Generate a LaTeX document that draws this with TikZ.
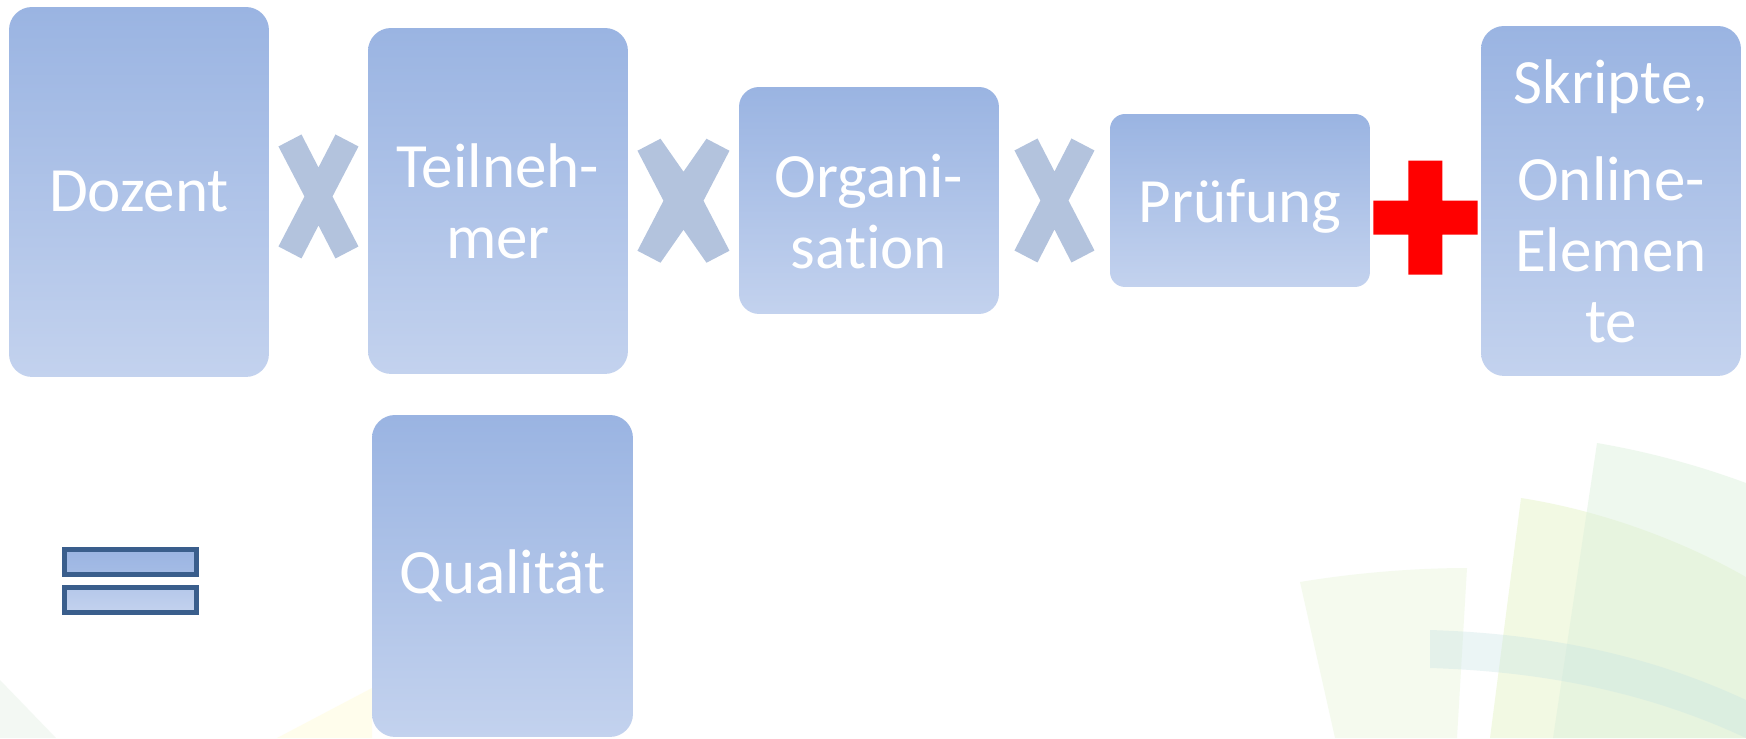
\documentclass[tikz,border=0pt]{standalone}
\usepackage{fontspec}
\setmainfont{Carlito}[Ligatures=NoCommon]
\usetikzlibrary{calc}

\begin{document}
\begin{tikzpicture}[x=0.02cm, y=-0.02cm,
	blocktext/.style={text=white, align=center, inner sep=0pt, font=\fontsize{35.9pt}{40.4pt}\selectfont},
	block/.style={blocktext, anchor=north west, outer sep=0pt, minimum width=5.2cm,
		top color=boxtop, bottom color=boxbottom},
	eqbar/.style={anchor=north west, inner sep=0pt, draw=eqframe, line width=0.1cm,
		minimum width=2.66cm, minimum height=0.5cm}]
	\definecolor{boxtop}{RGB}{154, 180, 226}
	\definecolor{boxbottom}{RGB}{195, 210, 238}
	\definecolor{timesgray}{RGB}{179, 195, 221}
	\definecolor{eqframe}{RGB}{58, 94, 140}
	\definecolor{plusred}{RGB}{255, 0, 0}

	% \drawtimes#center#halfwidth
	\def\drawtimes#1#2{
		\fill[timesgray, shift={(#1)}] (-#2, -50) -- (-#2+23, -62) -- (0, -29) -- (#2-23, -62) -- (#2, -50) -- (#2-26, 0)
			-- (#2, 50) -- (#2-23, 62) -- (0, 29) -- (-#2+23, 62) -- (-#2, 50) -- (-#2+26, 0) -- cycle;
	}

	% \drawplus#center
	\def\drawplus#1{
		\fill[plusred, shift={(#1)}] (-17, -57) -- (17, -57) -- (17, -17) -- (52, -17) -- (52, 17) -- (17, 17)
			-- (17, 57) -- (-17, 57) -- (-17, 17) -- (-52, 17) -- (-52, -17) -- (-17, -17) -- cycle;
	}

	% background
	\fill[white] (0, 0) rectangle (1746, 738);
	\useasboundingbox (0, 0) rectangle (1746, 738);
	\fill[green!30!gray!12, fill opacity=.6] (0, 680) -- (56, 738) -- (0, 738) -- cycle;
	\fill[yellow!12, fill opacity=.6] (277, 738) -- (372, 688) -- (372, 738) -- cycle;
	\fill[yellow!40!green!9, fill opacity=.7] (1300, 582) .. controls (1360, 572) and (1420, 568) .. (1467, 568) -- (1457, 738) -- (1335, 738) -- cycle;
	\fill[yellow!55!green!18, fill opacity=.6] (1521, 498) .. controls (1610, 512) and (1690, 545) .. (1746, 577) -- (1746, 738) -- (1490, 738) -- cycle;
	\fill[green!40!gray!20, fill opacity=.45] (1597, 443) .. controls (1650, 452) and (1700, 466) .. (1746, 483) -- (1746, 738) -- (1553, 738) -- cycle;
	\fill[teal!22, fill opacity=.35] (1430, 630) .. controls (1560, 634) and (1660, 660) .. (1746, 700) -- (1746, 738)
		.. controls (1660, 698) and (1560, 672) .. (1430, 668) -- cycle;

	% diagram
	\node[block, minimum height=7.4cm, rounded corners=.46cm] (dozent) at (9, 7) {Dozent};
	\node[block, minimum height=6.92cm, rounded corners=.46cm] (teil) at (368, 28) {Teilneh-\\mer};
	\node[block, minimum height=4.54cm, rounded corners=.4cm] (orga) at (739, 87) {};
	\node[blocktext] (orgalabel) at ($(orga.center) + (0, 11)$) {Organi-\\sation};
	\node[block, minimum height=3.46cm, rounded corners=.3cm, text depth=0pt] (pruef) at (1110, 114) {Prüfung};
	\node[block, minimum height=7cm, rounded corners=.46cm] (skript) at (1481, 26) {Skripte,\\[14.8pt]Online-\\Elemen\\te};

	\path (dozent.east) -- (teil.west) coordinate[midway] (t1);
	\path (teil.east) -- (orga.west) coordinate[midway] (t2);
	\path (orga.east) -- (pruef.west) coordinate[midway] (t3);
	\coordinate (p1) at ($(pruef.east)!.5!(skript.west) + (0, 17)$);
	\drawtimes{t1}{40}
	\drawtimes{t2}{46}
	\drawtimes{t3}{40}
	\drawplus{p1}

	\node[eqbar, top color=boxtop, bottom color=boxtop!75!boxbottom] (eqtop) at (61.5, 546.5) {};
	\node[eqbar, top color=boxtop!35!boxbottom, bottom color=boxbottom] (eqbot) at (61.5, 584.5) {};
	\node[block, minimum width=5.22cm, minimum height=6.44cm, rounded corners=.46cm] (quali) at (372, 415) {Qualität};
\end{tikzpicture}
\end{document}
